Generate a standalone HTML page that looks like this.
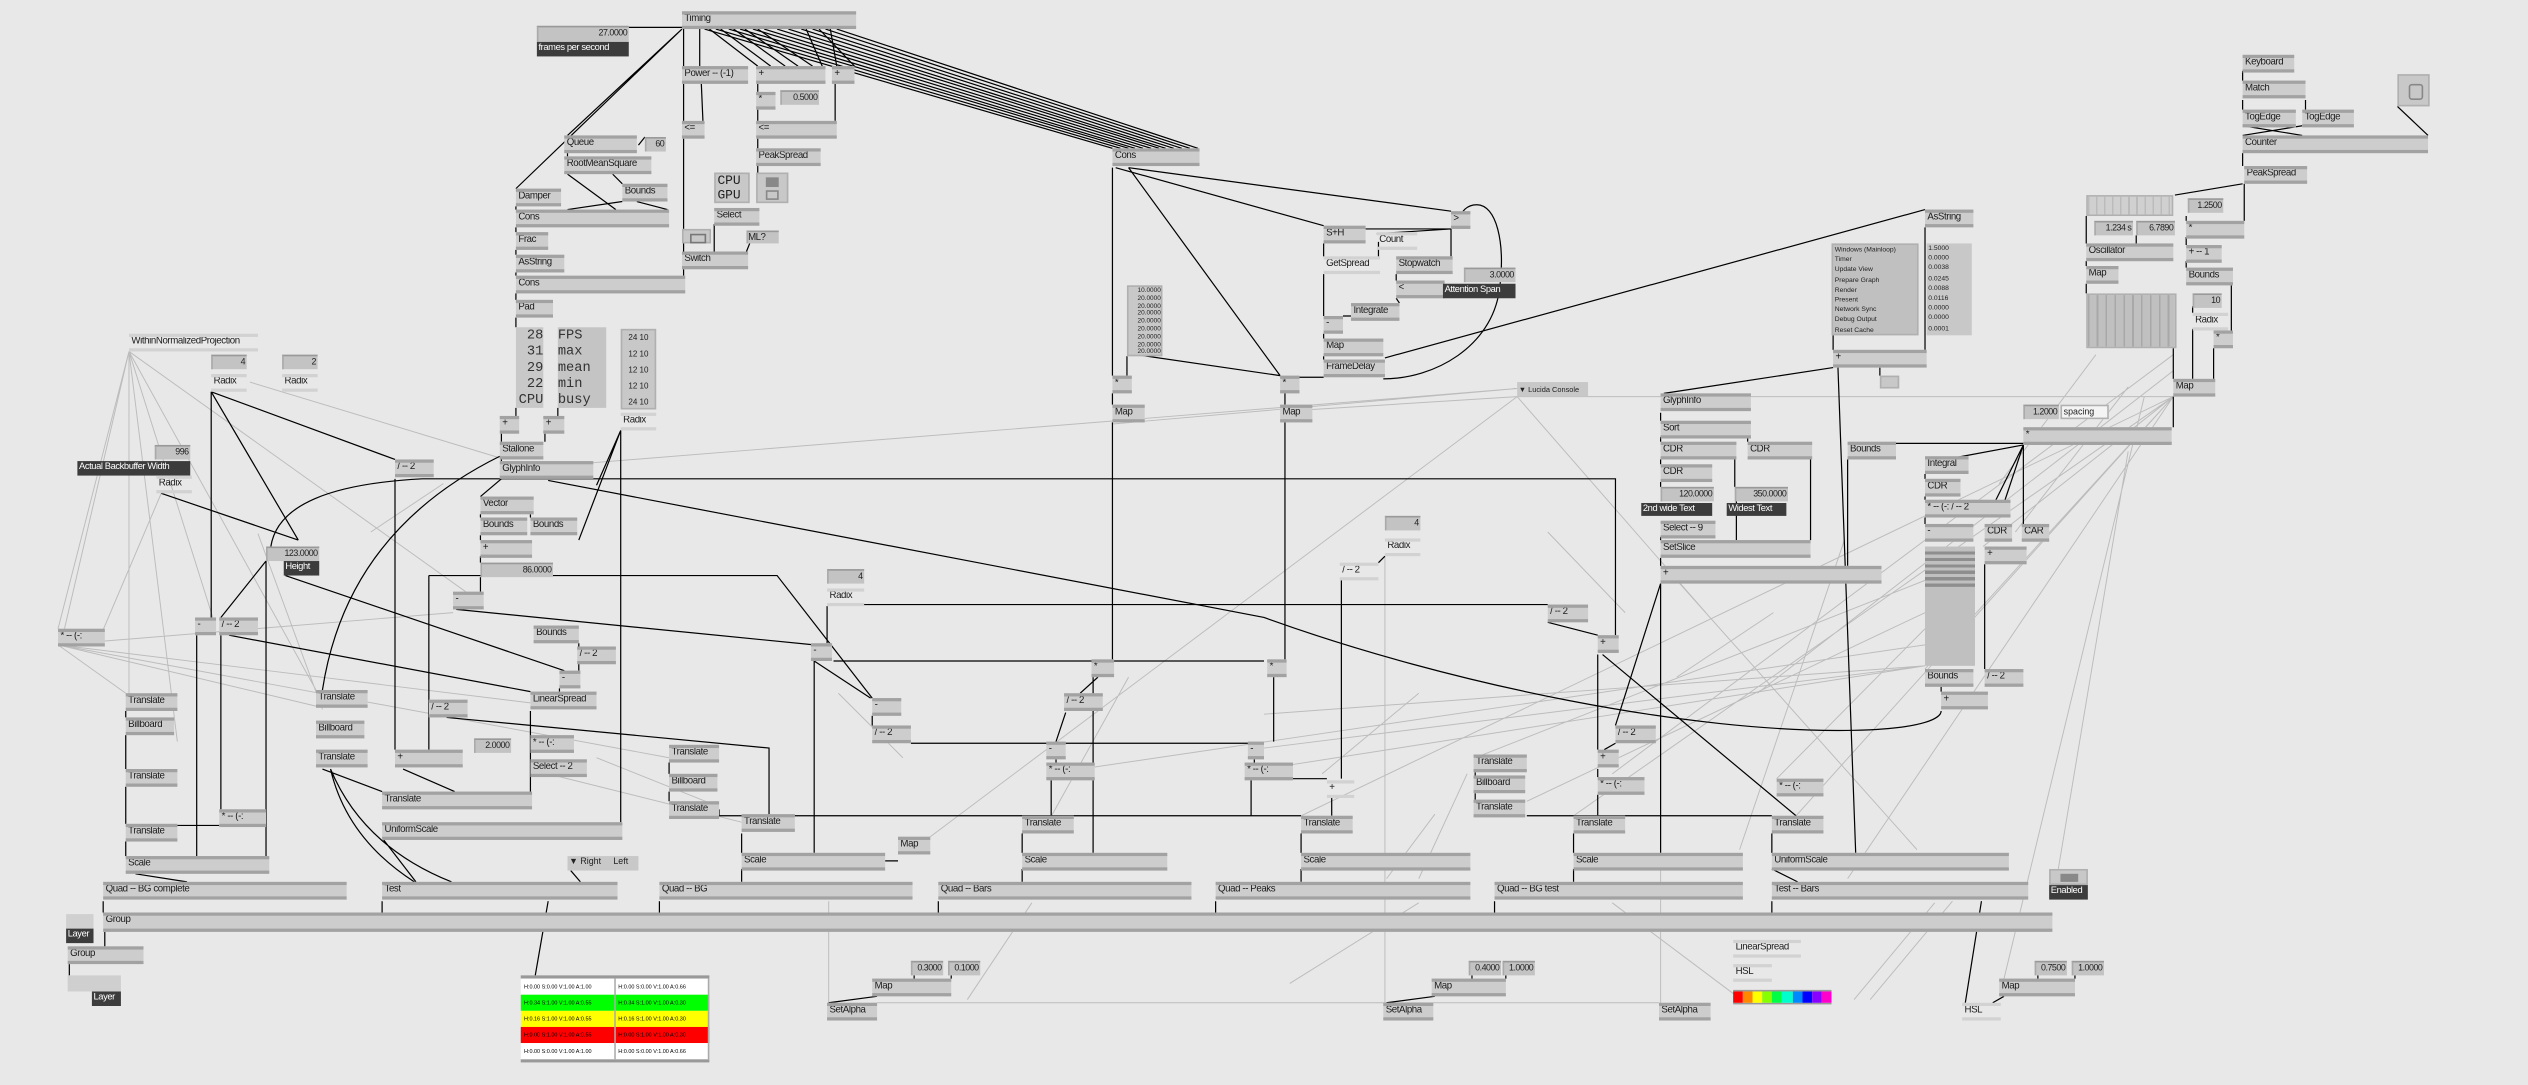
<!DOCTYPE html>
<html><head><meta charset="utf-8">
<style>
html,body{margin:0;padding:0;background:#e8e8e8;overflow:hidden}
#c{position:absolute;left:0;top:0;width:1568px;height:673px;transform:scale(1.61224,1.61218);transform-origin:0 0;font-family:"Liberation Sans",sans-serif}
svg{position:absolute;left:0;top:0}
.n{position:absolute;height:11px;box-sizing:border-box;background:#cdcdcd;border-top:2px solid #a2a2a2;border-bottom:2px solid #a2a2a2;font-size:6px;line-height:7px;padding-left:1.5px;white-space:nowrap;overflow:hidden;color:#1a1a1a;letter-spacing:-0.25px}
.n:before,.n:after{content:"";position:absolute;top:-2px;width:2px;height:2px;background:#555}
.n:before{left:0}.n:after{right:0}
.l{background:transparent;border-top-color:#d2d2d2;border-bottom-color:#d2d2d2}
.l:before,.l:after{display:none}
.v{position:absolute;height:9px;box-sizing:border-box;background:#c3c3c3;border-top:1px solid #999;border-left:1px solid #aaa;font-size:5.5px;line-height:8px;text-align:right;padding-right:1px;color:#222;white-space:nowrap;overflow:hidden;letter-spacing:-0.3px}
.d{position:absolute;height:9px;box-sizing:border-box;background:#3c3c3c;color:#fff;font-size:5.8px;line-height:9px;padding-left:1px;white-space:nowrap;overflow:hidden;letter-spacing:-0.25px}
.b{position:absolute;box-sizing:border-box;background:#c8c8c8;border:1px solid #b0b0b0}
.ct{position:absolute;left:323px;top:605px;width:117px;height:54px;border-top:2px solid #999;border-bottom:2px solid #999;box-sizing:border-box;display:grid;grid-template-columns:1fr 1fr}
.ct div{font-size:3.4px;line-height:10px;color:#000;border-right:0.5px solid #aaa;white-space:nowrap;overflow:hidden;padding-left:2px;padding-top:0}
</style></head><body><div id="c">
<svg width="1568" height="673" viewBox="0 0 1568 673">
<g stroke="#bcbcbc" stroke-width="0.6" fill="none">
<path d="M36 400L78 430M36 400L196 438M36 400L329 436M36 400L415 470M36 400L281 380M36 390L80 218M80 218L80 430M80 218L110 460M80 218L300 375M80 218L196 428M80 218L132 383M80 218L40 390M155 237L310 284M690 263L941 241M368 287L941 241M941 246L814 254M941 246L1348 246M941 246L577 519M941 246L1058 380M1194 413L784 464M1194 413L784 477M1194 413L784 443M1194 400L650 480M1194 380L947 497M1194 390L1102 483M1194 360L915 470M1348 246L976 506M1348 246L1114 506M1348 246L807 506M1348 246L1230 339M1348 246L1194 415M1348 246L1146 545M1348 230L1090 430M1348 220L1000 480M1243 607L1330 246M1275 549L1320 280M859 345V622M1030 539V622M514 559V622M544 622H1029M1041 361L1189 527M1144 335L1079 527M1211 559L1160 620M340 480L460 510M370 470L445 500M100 306L60 400M200 440L160 331M230 330L275 300M700 420L650 510M560 470L520 430M820 480L880 430M1040 420L1100 380M1008 380L960 330M860 545L890 505M910 480L880 545M1300 220L1240 300M1250 330L1320 240M1150 620L1200 560M1080 620L1000 560M600 620L640 560M800 610L880 560"/>
</g>
<g stroke="#000" stroke-width="0.75" fill="none">
<path d="M390 17H423M437 18L690 92M444 18L695 92M452 18L700 92M459 18L704 92M467 18L709 92M474 18L714 92M482 18L719 92M489 18L723 92M497 18L728 92M504 18L733 92M512 18L738 92M519 18L743 92"/>
<path d="M424 18V41M434 18V41M440 18L470 41M447 18L478 41M455 18L487 41M462 18L495 41M470 18L504 41M500 18L510 41M515 18L519 41M508 18L530 41M423 18L352 84M423 18L320 117"/>
<path d="M424 52V75M435 52L436 75M470 52V57M470 68V75M518 52V75M424 86V142M470 86V92M470 103V107M443 139V156M465 151L463 156M424 151V156M424 167V171"/>
<path d="M352 95V97M352 108L382 130M380 108L386 114M386 125L352 130M395 125L414 130M400 85L396 90M320 128V130M320 141V144M320 155V158M320 169V171M320 182V186M320 197V203M320 253V258M346 253V258M311 269V274M338 269V274M311 285V286"/>
<path d="M385 267V510M385 267L359 335M385 267L370 301M311 297L298 308M298 319V321M329 319V321M298 332V335M298 345V349M298 358V367"/>
<path d="M168 339C172 313 205 300 262 297H1002V394"/>
<path d="M340 298L784 383C900 425 1050 455 1150 453C1195 452 1204 445 1204 441"/>
<path d="M131 243L245 285M131 243L185 335M100 306L185 335M131 243V383M137 394V502M122 394V531M165 348V531M110 512H136M78 441V445M78 456V477M78 488V511M78 522V531M137 383L165 348M177 357L350 416M142 394L329 429M283 378L505 400M266 357H482L541 433M266 357V465M277 445L477 464V506M245 297V465M329 441V491M250 477L282 491M200 477L237 491M205 477Q215 520 257 547M205 477Q225 525 280 547M200 428Q215 330 310 283M238 521L258 547M84 542L116 547M340 559L332 605M354 540L360 547M347 427V430M359 399V416"/>
<path d="M690 104V233M690 244V251M690 262V409M681 420L670 430M661 442L655 460M655 471V473M652 484V506M678 420V529M699 221V233M705 220L794 233M700 104L794 233M797 244V251M797 262V409M790 420V460M778 471V473M776 484V506M826 495V506M832 360V483M859 345L855 349"/>
<path d="M446 506H807M947 506H1099M535 375H960M513 376V399M517 410H784M565 461H784M784 483H823M505 410V529M505 410L540 433M541 444V450M460 517V529M460 539V547M549 534H557M634 517V529M634 539V547M807 517V529M807 539V547M976 517V529M976 539V547M1099 517V529M1099 539L1115 547M915 479V481M915 492V496M446 502V506M415 473V480M415 491V497"/>
<path d="M64 559V566M237 559V566M409 559V566M582 559V566M754 559V566M927 559V566M1099 559V566M65 578V587M43 598V605M1229 559L1219 622M544 618L514 622M567 605V607M590 605V607M890 618L860 622M913 605V607M934 605V607M1243 618L1236 622M1264 605V607M1287 605V607"/>
<path d="M692 104L821 140M700 104L900 131M847 142L900 142M854 145L900 142M900 142V159M821 151V159M821 170V196M855 150V159M866 170V174M866 185L868 188M838 196H833M821 207V210M821 221V223M858 235C890 235 925 215 930 180C934 150 928 127 916 127C910 127 906 131 905 137M859 222L1194 130M800 234H821"/>
<path d="M1194 141V217M1137 208V217M1166 228V233M1137 228L1032 244M1140 228L1151 529M1030 256V261M1030 271V274M1030 285V288M1030 299V302M1084 271V274M1123 285V335M1076 285V302M1030 333V335M1030 346V351M1030 362V529M1030 362L1002 450M1077 311V335M1175 275H1255M1146 285V351M1255 276L1212 284M1255 276L1237 312M1255 276L1243 312M1255 276V325M1194 294V297M1194 308V310M1194 321V325M1231 350V415M1204 426V429M960 386L991 394M991 406V465M994 406L1114 506M991 477V482M991 493V506M1002 461L995 465"/>
<path d="M1391 44V50M1391 62V68M1430 62V68M1391 78L1428 84M1428 78L1391 84M1391 95V103M1391 114L1349 121M1392 114V137M1487 66L1506 84M1294 134V151M1325 146V151M1356 134V137M1356 147V152M1356 162V166M1294 162V165M1294 176V182M1384 177V205M1360 190V194M1360 204V235M1373 216V235M1348 216V235M1348 246V265"/>
</g>
</svg>

<div class="v" style="left:333px;top:16px;width:57px;height:10px">27.0000</div>
<div class="d" style="left:333px;top:26px;width:57px">frames per second</div>
<div class="n" style="left:423px;top:7px;width:108px">Timing</div>
<div class="n" style="left:423px;top:41px;width:41px">Power -- (-1)</div>
<div class="n" style="left:469px;top:41px;width:43px">+</div>
<div class="n" style="left:516px;top:41px;width:14px">+</div>
<div class="n" style="left:469px;top:57px;width:12px">*</div>
<div class="v" style="left:484px;top:56px;width:24px">0.5000</div>
<div class="n" style="left:423px;top:75px;width:14px">&lt;=</div>
<div class="n" style="left:469px;top:75px;width:50px">&lt;=</div>
<div class="n" style="left:469px;top:92px;width:40px">PeakSpread</div>
<div class="b" style="left:443px;top:107px;width:22px;height:19px;font:8px 'Liberation Mono',monospace;line-height:9px;color:#222;padding-left:1px">CPU<br>GPU</div>
<div class="b" style="left:469px;top:107px;width:20px;height:19px"><div style="position:absolute;left:5px;top:2px;width:8px;height:6px;background:#888"></div><div style="position:absolute;left:5px;top:10px;width:8px;height:6px;border:0.6px solid #888;box-sizing:border-box"></div></div>
<div class="n" style="left:443px;top:129px;width:28px">Select</div>
<div class="b" style="left:423px;top:142px;width:18px;height:9px"><div style="position:absolute;left:4px;top:2px;width:8px;height:4px;border:0.6px solid #777"></div></div>
<div class="v" style="left:463px;top:143px;width:20px;height:8px;text-align:left;font-size:6px">ML?</div>
<div class="n" style="left:423px;top:156px;width:41px">Switch</div>
<div class="n" style="left:350px;top:84px;width:45px">Queue</div>
<div class="v" style="left:400px;top:85px;width:13px">60</div>
<div class="n" style="left:350px;top:97px;width:54px">RootMeanSquare</div>
<div class="n" style="left:320px;top:117px;width:28px">Damper</div>
<div class="n" style="left:386px;top:114px;width:28px">Bounds</div>
<div class="n" style="left:320px;top:130px;width:95px">Cons</div>
<div class="n" style="left:320px;top:144px;width:20px">Frac</div>
<div class="n" style="left:320px;top:158px;width:30px">AsString</div>
<div class="n" style="left:320px;top:171px;width:105px">Cons</div>
<div class="n" style="left:320px;top:186px;width:23px">Pad</div>
<div class="b" style="left:320px;top:203px;width:17px;height:50px;font:8.5px 'Liberation Mono',monospace;line-height:10px;text-align:right;color:#333;border:none">28<br>31<br>29<br>22<br>CPU</div>
<div class="b" style="left:346px;top:203px;width:30px;height:50px;font:8.5px 'Liberation Mono',monospace;line-height:10px;color:#333;border:none;background:#c4c4c4">FPS<br>max<br>mean<br>min<br>busy</div>
<div class="b" style="left:385px;top:204px;width:22px;height:50px;font:5px 'Liberation Sans',sans-serif;line-height:10px;color:#222;text-align:center">24&nbsp;10<br>12&nbsp;10<br>12&nbsp;10<br>12&nbsp;10<br>24&nbsp;10</div>
<div class="n" style="left:310px;top:258px;width:12px">+</div>
<div class="n" style="left:337px;top:258px;width:13px">+</div>
<div class="n l" style="left:385px;top:256px;width:22px">Radix</div>
<div class="n" style="left:310px;top:274px;width:27px">Stallone</div>
<div class="n" style="left:310px;top:286px;width:58px">GlyphInfo</div>
<div class="n" style="left:245px;top:285px;width:24px">/ -- 2</div>
<div class="n" style="left:298px;top:308px;width:33px">Vector</div>
<div class="n" style="left:298px;top:321px;width:29px">Bounds</div>
<div class="n" style="left:329px;top:321px;width:29px">Bounds</div>
<div class="n" style="left:298px;top:335px;width:32px">+</div>
<div class="v" style="left:298px;top:349px;width:45px">86.0000</div>
<div class="n" style="left:690px;top:92px;width:54px">Cons</div>
<div class="b" style="left:699px;top:177px;width:22px;height:44px;font-size:4px;line-height:4.8px;text-align:right;color:#222">10.0000<br>20.0000<br>20.0000<br>20.0000<br>20.0000<br>20.0000<br>20.0000<br>20.0000<br>20.0000</div>
<div class="n" style="left:690px;top:233px;width:12px">*</div>
<div class="n" style="left:690px;top:251px;width:20px">Map</div>
<div class="n" style="left:794px;top:233px;width:12px">*</div>
<div class="n" style="left:794px;top:251px;width:20px">Map</div>
<div class="v" style="left:96px;top:276px;width:22px">996</div>
<div class="d" style="left:48px;top:286px;width:70px">Actual Backbuffer Width</div>
<div class="n l" style="left:97px;top:295px;width:22px">Radix</div>
<div class="n l" style="left:80px;top:207px;width:80px">WithinNormalizedProjection</div>
<div class="v" style="left:131px;top:220px;width:22px">4</div>
<div class="n l" style="left:131px;top:232px;width:22px">Radix</div>
<div class="v" style="left:175px;top:220px;width:22px">2</div>
<div class="n l" style="left:175px;top:232px;width:22px">Radix</div>
<div class="v" style="left:165px;top:339px;width:33px">123.0000</div>
<div class="d" style="left:176px;top:348px;width:22px">Height</div>
<div class="n" style="left:281px;top:367px;width:19px">-</div>
<div class="n" style="left:121px;top:383px;width:13px">-</div>
<div class="n" style="left:136px;top:383px;width:24px">/ -- 2</div>
<div class="n" style="left:36px;top:390px;width:29px">* -- (-:</div>
<div class="n" style="left:331px;top:388px;width:28px">Bounds</div>
<div class="n" style="left:358px;top:401px;width:24px">/ -- 2</div>
<div class="n" style="left:347px;top:416px;width:13px">-</div>
<div class="n" style="left:329px;top:429px;width:41px">LinearSpread</div>
<div class="n" style="left:78px;top:430px;width:32px">Translate</div>
<div class="n" style="left:78px;top:445px;width:30px">Billboard</div>
<div class="n" style="left:78px;top:477px;width:32px">Translate</div>
<div class="n" style="left:78px;top:511px;width:32px">Translate</div>
<div class="n" style="left:196px;top:428px;width:32px">Translate</div>
<div class="n" style="left:196px;top:447px;width:30px">Billboard</div>
<div class="n" style="left:196px;top:465px;width:32px">Translate</div>
<div class="n" style="left:266px;top:434px;width:24px">/ -- 2</div>
<div class="n" style="left:245px;top:465px;width:42px">+</div>
<div class="v" style="left:294px;top:458px;width:23px">2.0000</div>
<div class="n" style="left:329px;top:456px;width:27px">* -- (-:</div>
<div class="n" style="left:329px;top:471px;width:35px">Select -- 2</div>
<div class="n" style="left:136px;top:502px;width:29px">* -- (-:</div>
<div class="n" style="left:237px;top:491px;width:93px">Translate</div>
<div class="n" style="left:237px;top:510px;width:149px">UniformScale</div>
<div class="n" style="left:78px;top:531px;width:89px">Scale</div>
<div class="n" style="left:64px;top:547px;width:151px">Quad -- BG complete</div>
<div class="n" style="left:237px;top:547px;width:146px">Test</div>
<div class="b" style="left:352px;top:531px;width:44px;height:9px;font-size:5.5px;line-height:9px;color:#222;border:none;padding-left:1px">&#9660; Right&nbsp;&nbsp;&nbsp;&nbsp;&nbsp;Left</div>
<div class="n" style="left:409px;top:547px;width:157px">Quad -- BG</div>
<div class="n" style="left:582px;top:547px;width:157px">Quad -- Bars</div>
<div class="n" style="left:754px;top:547px;width:158px">Quad -- Peaks</div>
<div class="n" style="left:927px;top:547px;width:154px">Quad -- BG test</div>
<div class="n" style="left:1099px;top:547px;width:159px">Test -- Bars</div>
<div class="b" style="left:1271px;top:539px;width:24px;height:10px"><div style="position:absolute;left:6px;top:2px;width:11px;height:5px;background:#888"></div></div>
<div class="d" style="left:1271px;top:549px;width:24px">Enabled</div>
<div class="n" style="left:64px;top:566px;width:1209px;height:12px">Group</div>
<div class="b" style="left:41px;top:567px;width:17px;height:9px;border:none;background:#d0d0d0"></div>
<div class="d" style="left:41px;top:576px;width:17px">Layer</div>
<div class="n" style="left:42px;top:587px;width:47px">Group</div>
<div class="b" style="left:42px;top:605px;width:33px;height:10px;border:none;background:#cfcfcf"></div>
<div class="d" style="left:57px;top:615px;width:18px">Layer</div>
<div class="ct">
<div style="background:#fff">H:0.00 S:0.00 V:1.00 A:1.00</div><div style="background:#fff">H:0.00 S:0.00 V:1.00 A:0.66</div>
<div style="background:#0f0">H:0.34 S:1.00 V:1.00 A:0.55</div><div style="background:#0f0">H:0.34 S:1.00 V:1.00 A:0.30</div>
<div style="background:#ff0">H:0.16 S:1.00 V:1.00 A:0.55</div><div style="background:#ff0">H:0.16 S:1.00 V:1.00 A:0.30</div>
<div style="background:#f00">H:0.00 S:1.00 V:1.00 A:0.55</div><div style="background:#f00">H:0.00 S:1.00 V:1.00 A:0.30</div>
<div style="background:#fff">H:0.00 S:0.00 V:1.00 A:1.00</div><div style="background:#fff">H:0.00 S:0.00 V:1.00 A:0.66</div>
</div>
<div class="v" style="left:513px;top:353px;width:23px">4</div>
<div class="n l" style="left:513px;top:365px;width:23px">Radix</div>
<div class="n" style="left:503px;top:399px;width:13px">-</div>
<div class="n" style="left:541px;top:433px;width:18px">-</div>
<div class="n" style="left:541px;top:450px;width:24px">/ -- 2</div>
<div class="n" style="left:415px;top:462px;width:31px">Translate</div>
<div class="n" style="left:415px;top:480px;width:30px">Billboard</div>
<div class="n" style="left:415px;top:497px;width:31px">Translate</div>
<div class="n" style="left:460px;top:505px;width:33px">Translate</div>
<div class="n" style="left:557px;top:519px;width:20px">Map</div>
<div class="n" style="left:460px;top:529px;width:89px">Scale</div>
<div class="n" style="left:541px;top:607px;width:49px">Map</div>
<div class="v" style="left:565px;top:596px;width:20px">0.3000</div>
<div class="v" style="left:588px;top:596px;width:20px">0.1000</div>
<div class="n" style="left:513px;top:622px;width:31px">SetAlpha</div>
<div class="n" style="left:677px;top:409px;width:14px">*</div>
<div class="n" style="left:660px;top:430px;width:24px">/ -- 2</div>
<div class="n" style="left:649px;top:460px;width:12px">-</div>
<div class="n" style="left:649px;top:473px;width:30px">* -- (-:</div>
<div class="n" style="left:634px;top:506px;width:32px">Translate</div>
<div class="n" style="left:634px;top:529px;width:90px">Scale</div>
<div class="n" style="left:786px;top:409px;width:12px">*</div>
<div class="n" style="left:774px;top:460px;width:10px">-</div>
<div class="n" style="left:772px;top:473px;width:30px">* -- (-:</div>
<div class="n l" style="left:823px;top:484px;width:17px">+</div>
<div class="n" style="left:807px;top:506px;width:32px">Translate</div>
<div class="n" style="left:807px;top:529px;width:105px">Scale</div>
<div class="v" style="left:859px;top:320px;width:22px">4</div>
<div class="n l" style="left:859px;top:334px;width:22px">Radix</div>
<div class="n l" style="left:831px;top:349px;width:24px">/ -- 2</div>
<div class="n" style="left:914px;top:468px;width:33px">Translate</div>
<div class="n" style="left:914px;top:481px;width:32px">Billboard</div>
<div class="n" style="left:914px;top:496px;width:32px">Translate</div>
<div class="n" style="left:888px;top:607px;width:46px">Map</div>
<div class="v" style="left:911px;top:596px;width:20px">0.4000</div>
<div class="v" style="left:932px;top:596px;width:20px">1.0000</div>
<div class="n" style="left:858px;top:622px;width:31px">SetAlpha</div>
<div class="n" style="left:960px;top:375px;width:25px">/ -- 2</div>
<div class="n" style="left:991px;top:394px;width:13px">+</div>
<div class="n" style="left:1002px;top:450px;width:25px">/ -- 2</div>
<div class="n" style="left:991px;top:465px;width:13px">+</div>
<div class="n" style="left:991px;top:482px;width:29px">* -- (-:</div>
<div class="n" style="left:976px;top:506px;width:32px">Translate</div>
<div class="n" style="left:976px;top:529px;width:105px">Scale</div>
<div class="n" style="left:1102px;top:483px;width:29px">* -- (-:</div>
<div class="n" style="left:1099px;top:506px;width:32px">Translate</div>
<div class="n" style="left:1099px;top:529px;width:147px">UniformScale</div>
<div class="n" style="left:1029px;top:622px;width:32px">SetAlpha</div>
<div class="n l" style="left:1075px;top:583px;width:42px">LinearSpread</div>
<div class="n l" style="left:1075px;top:598px;width:24px">HSL</div>
<div style="position:absolute;left:1075px;top:614px;width:61px;height:9px;display:flex;border-top:1px solid #999;border-bottom:1px solid #999;box-sizing:border-box"><span style="flex:1;background:#f00"></span><span style="flex:1;background:#f80"></span><span style="flex:1;background:#ff0"></span><span style="flex:1;background:#8f0"></span><span style="flex:1;background:#0f4"></span><span style="flex:1;background:#0fc"></span><span style="flex:1;background:#08f"></span><span style="flex:1;background:#00f"></span><span style="flex:1;background:#80f"></span><span style="flex:1;background:#f0c"></span></div>
<div class="n l" style="left:1217px;top:622px;width:24px">HSL</div>
<div class="n" style="left:1240px;top:607px;width:47px">Map</div>
<div class="v" style="left:1262px;top:596px;width:20px">0.7500</div>
<div class="v" style="left:1285px;top:596px;width:20px">1.0000</div>
<div class="n" style="left:821px;top:140px;width:26px">S+H</div>
<div class="n l" style="left:854px;top:144px;width:25px">Count</div>
<div class="n" style="left:900px;top:131px;width:12px">&gt;</div>
<div class="n l" style="left:821px;top:159px;width:35px">GetSpread</div>
<div class="n" style="left:866px;top:159px;width:35px">Stopwatch</div>
<div class="n" style="left:866px;top:174px;width:30px">&lt;</div>
<div class="v" style="left:908px;top:166px;width:32px">3.0000</div>
<div class="d" style="left:895px;top:176px;width:45px">Attention Span</div>
<div class="n" style="left:838px;top:188px;width:30px">Integrate</div>
<div class="n" style="left:821px;top:196px;width:12px">-</div>
<div class="n" style="left:821px;top:210px;width:37px">Map</div>
<div class="n" style="left:821px;top:223px;width:38px">FrameDelay</div>
<div class="b" style="left:941px;top:237px;width:44px;height:9px;font-size:4.6px;line-height:9px;color:#222;border:none;padding-left:1px">&#9660; Lucida Console</div>
<div class="n" style="left:1194px;top:130px;width:30px">AsString</div>
<div class="b" style="left:1136px;top:151px;width:54px;height:57px;font-size:4.2px;line-height:6.2px;color:#222;padding-left:1px;background:#c0c0c0">Windows (Mainloop)<br>Timer<br>Update View<br>Prepare Graph<br>Render<br>Present<br>Network Sync<br>Debug Output<br>Reset Cache</div>
<div class="b" style="left:1195px;top:151px;width:28px;height:57px;font-size:4.2px;line-height:6.2px;color:#222;padding-left:1px;border:none;background:#c8c8c8">1.5000<br>0.0000<br>0.0038<br>0.0245<br>0.0088<br>0.0116<br>0.0000<br>0.0000<br>0.0001</div>
<div class="n" style="left:1137px;top:217px;width:58px">+</div>
<div class="b" style="left:1166px;top:233px;width:12px;height:8px"></div>
<div class="n" style="left:1391px;top:34px;width:32px">Keyboard</div>
<div class="n" style="left:1391px;top:50px;width:39px">Match</div>
<div class="n" style="left:1391px;top:68px;width:33px">TogEdge</div>
<div class="n" style="left:1428px;top:68px;width:32px">TogEdge</div>
<div class="n" style="left:1391px;top:84px;width:115px">Counter</div>
<div class="n" style="left:1392px;top:103px;width:39px">PeakSpread</div>
<div class="b" style="left:1487px;top:46px;width:20px;height:20px"><div style="position:absolute;left:6px;top:5px;width:7px;height:8px;border:0.6px solid #888;border-radius:2px"></div></div>
<div class="b" style="left:1294px;top:121px;width:54px;height:13px;background:repeating-linear-gradient(90deg,#bbb 0 1px,#d0d0d0 1px 5px)"></div>
<div class="v" style="left:1357px;top:123px;width:22px">1.2500</div>
<div class="n" style="left:1356px;top:137px;width:36px">*</div>
<div class="v" style="left:1299px;top:137px;width:24px">1.234 s</div>
<div class="v" style="left:1325px;top:137px;width:24px">6.7890</div>
<div class="n" style="left:1356px;top:152px;width:22px">+ -- 1</div>
<div class="n" style="left:1294px;top:151px;width:54px">Oscillator</div>
<div class="n" style="left:1356px;top:166px;width:29px">Bounds</div>
<div class="n" style="left:1294px;top:165px;width:20px">Map</div>
<div class="b" style="left:1294px;top:182px;width:56px;height:34px;background:repeating-linear-gradient(90deg,#a8a8a8 0 1px,#c0c0c0 1px 5.5px)"></div>
<div class="v" style="left:1360px;top:182px;width:18px">10</div>
<div class="n l" style="left:1360px;top:194px;width:22px">Radix</div>
<div class="n" style="left:1373px;top:205px;width:12px">*</div>
<div class="n" style="left:1348px;top:235px;width:26px">Map</div>
<div class="v" style="left:1255px;top:251px;width:22px">1.2000</div>
<div class="b" style="left:1278px;top:251px;width:30px;height:9px;background:#f4f4f4;font-size:5.5px;line-height:8px;color:#222;padding-left:1px">spacing</div>
<div class="n" style="left:1255px;top:265px;width:92px">*</div>
<div class="n" style="left:1030px;top:244px;width:56px">GlyphInfo</div>
<div class="n" style="left:1030px;top:261px;width:56px">Sort</div>
<div class="n" style="left:1030px;top:274px;width:47px">CDR</div>
<div class="n" style="left:1084px;top:274px;width:40px">CDR</div>
<div class="n" style="left:1146px;top:274px;width:30px">Bounds</div>
<div class="n" style="left:1030px;top:288px;width:32px">CDR</div>
<div class="v" style="left:1030px;top:302px;width:33px">120.0000</div>
<div class="d" style="left:1018px;top:312px;width:44px;height:8px;line-height:8px">2nd wide Text</div>
<div class="v" style="left:1076px;top:302px;width:33px">350.0000</div>
<div class="d" style="left:1071px;top:312px;width:37px;height:8px;line-height:8px">Widest Text</div>
<div class="n" style="left:1030px;top:323px;width:34px">Select -- 9</div>
<div class="n" style="left:1030px;top:335px;width:93px">SetSlice</div>
<div class="n" style="left:1030px;top:351px;width:137px">+</div>
<div class="n" style="left:1194px;top:283px;width:27px">Integral</div>
<div class="n" style="left:1194px;top:297px;width:22px">CDR</div>
<div class="n" style="left:1194px;top:310px;width:53px">* -- (-: / -- 2</div>
<div class="n" style="left:1194px;top:325px;width:30px">-</div>
<div class="n" style="left:1231px;top:325px;width:17px">CDR</div>
<div class="n" style="left:1254px;top:325px;width:17px">CAR</div>
<div class="b" style="left:1194px;top:339px;width:31px;height:74px;border:none;background:linear-gradient(180deg,transparent 0 0);background-color:#c0c0c0"><div style="height:22px;margin-top:3px;background:repeating-linear-gradient(180deg,#8e8e8e 0 2px,#c0c0c0 2px 4px)"></div></div>
<div class="n" style="left:1231px;top:339px;width:26px">+</div>
<div class="n" style="left:1194px;top:415px;width:30px">Bounds</div>
<div class="n" style="left:1231px;top:415px;width:24px">/ -- 2</div>
<div class="n" style="left:1204px;top:429px;width:29px">+</div>
</div></body></html>
